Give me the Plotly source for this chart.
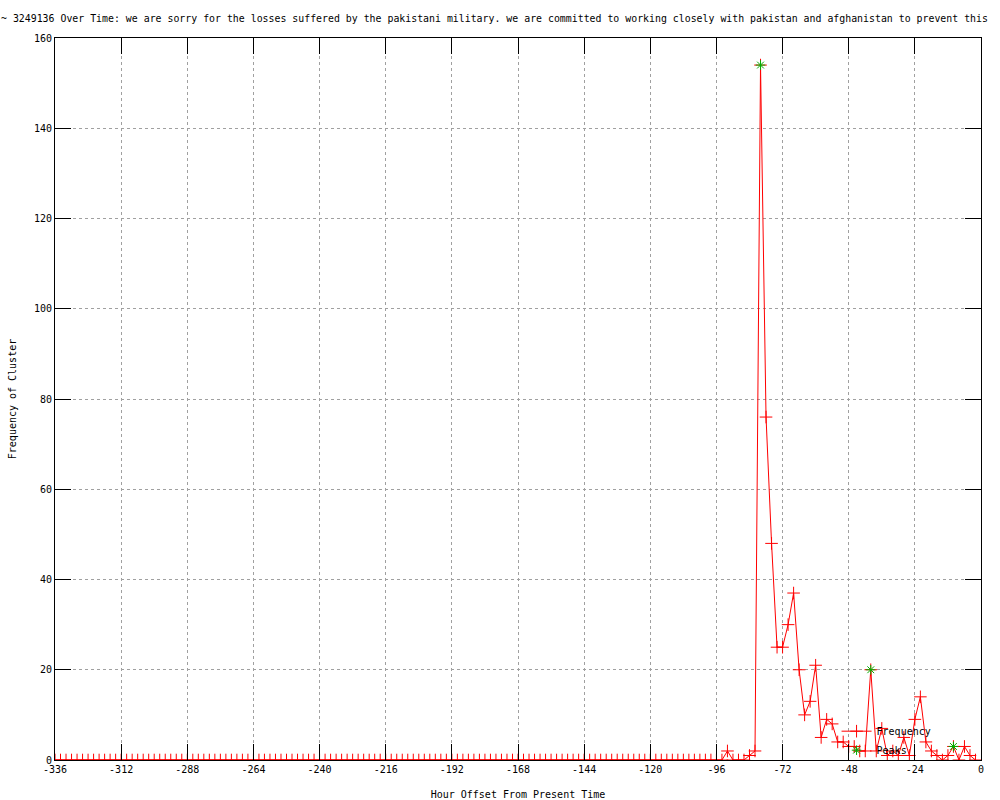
import plotly.graph_objects as go

# Hour offsets (2-hour bins from -336 to -2)
hours = list(range(-336, 0, 2))

frequency = [
    0, 0, 0, 0, 0, 0, 0, 0, 0, 0, 0, 0, 0, 0, 0, 0, 0, 0, 0, 0,
    0, 0, 0, 0, 0, 0, 0, 0, 0, 0, 0, 0, 0, 0, 0, 0, 0, 0, 0, 0,
    0, 0, 0, 0, 0, 0, 0, 0, 0, 0, 0, 0, 0, 0, 0, 0, 0, 0, 0, 0,
    0, 0, 0, 0, 0, 0, 0, 0, 0, 0, 0, 0, 0, 0, 0, 0, 0, 0, 0, 0,
    0, 0, 0, 0, 0, 0, 0, 0, 0, 0, 0, 0, 0, 0, 0, 0, 0, 0, 0, 0,
    0, 0, 0, 0, 0, 0, 0, 0, 0, 0, 0, 0, 0, 0, 0, 0, 0, 0, 0, 0,
    0,                                   # -96
    0, 2, 0, 0, 0, 1, 2,                 # -94 .. -82
    154, 76, 48, 25, 25, 30, 37, 20,     # -80 .. -66
    10, 13, 21, 5, 9, 8, 4, 4,           # -64 .. -50
    3, 3, 2, 2, 20, 2, 7, 1,             # -48 .. -34
    2, 1, 5, 1, 9, 14, 4, 2,             # -32 .. -18
    1, 0, 1, 3, 0, 3, 1, 0,              # -16 .. -2
]

peak_hours = [-80, -40, -10]
peak_values = [154, 20, 3]

x_tickvals = [-336, -312, -288, -264, -240, -216, -192, -168, -144, -120, -96, -72, -48, -24, 0]
x_ticktext = ["-336", "-312", "-288", "-264", "-240", "-216", "-192", "-168", "-144",
              "-120", "-96", "-72", "-48", "-24", "0"]
y_tickvals = [0, 20, 40, 60, 80, 100, 120, 140, 160]
y_ticktext = ["0", "20", "40", "60", "80", "100", "120", "140", "160"]

title_text = ("~ 3249136 Over Time: we are sorry for the losses suffered by the pakistani military. "
              "we are committed to working closely with pakistan and afghanistan to prevent this")

FONT = "DejaVu Sans Mono"

fig = go.Figure()
fig.add_trace(go.Scatter(
    x=hours, y=frequency, mode="lines+markers", name="Frequency",
    line=dict(color="#ff0000", width=1),
    marker=dict(symbol="cross-thin", size=9, color="#ff0000",
                line=dict(color="#ff0000", width=1)),
))
fig.add_trace(go.Scatter(
    x=peak_hours, y=peak_values, mode="markers", name="Peaks",
    marker=dict(symbol="asterisk-open", size=8, color="#00b000",
                line=dict(color="#00b000", width=1)),
))

axis_common = dict(
    showline=True, linecolor="black", linewidth=1, mirror="ticks",
    ticks="inside", ticklen=16, tickcolor="black", tickwidth=1,
    showgrid=True, gridcolor="#a0a0a0", griddash="dot", gridwidth=1,
    zeroline=False, automargin=False,
    tickfont=dict(family=FONT, size=10, color="black"),
)

fig.update_layout(
    width=1000, height=800,
    paper_bgcolor="white", plot_bgcolor="white",
    margin=dict(l=55, r=19, t=38, b=40, autoexpand=False),
    font=dict(family=FONT, size=10, color="black"),
    title=dict(text=title_text, x=0.001, xref="container", xanchor="left",
               y=0.977, yref="container", yanchor="middle",
               font=dict(family=FONT, size=9.9, color="black")),
    xaxis=dict(range=[-336, 0], tickvals=x_tickvals, ticktext=x_ticktext,
               title=dict(text="Hour Offset From Present Time", standoff=17,
                          font=dict(family=FONT, size=10)),
               **axis_common),
    yaxis=dict(range=[0, 160], tickvals=y_tickvals, ticktext=y_ticktext,
               title=dict(text="Frequency of Cluster", standoff=15,
                          font=dict(family=FONT, size=10)),
               **axis_common),
    legend=dict(x=0.952, xanchor="right", y=0.06, yanchor="top",
                bgcolor="rgba(0,0,0,0)", font=dict(family=FONT, size=10),
                tracegroupgap=0, itemwidth=30),
    showlegend=True,
)

fig.write_html("out.html", config={"displayModeBar": False},
               post_script="document.body.style.margin='0';")
